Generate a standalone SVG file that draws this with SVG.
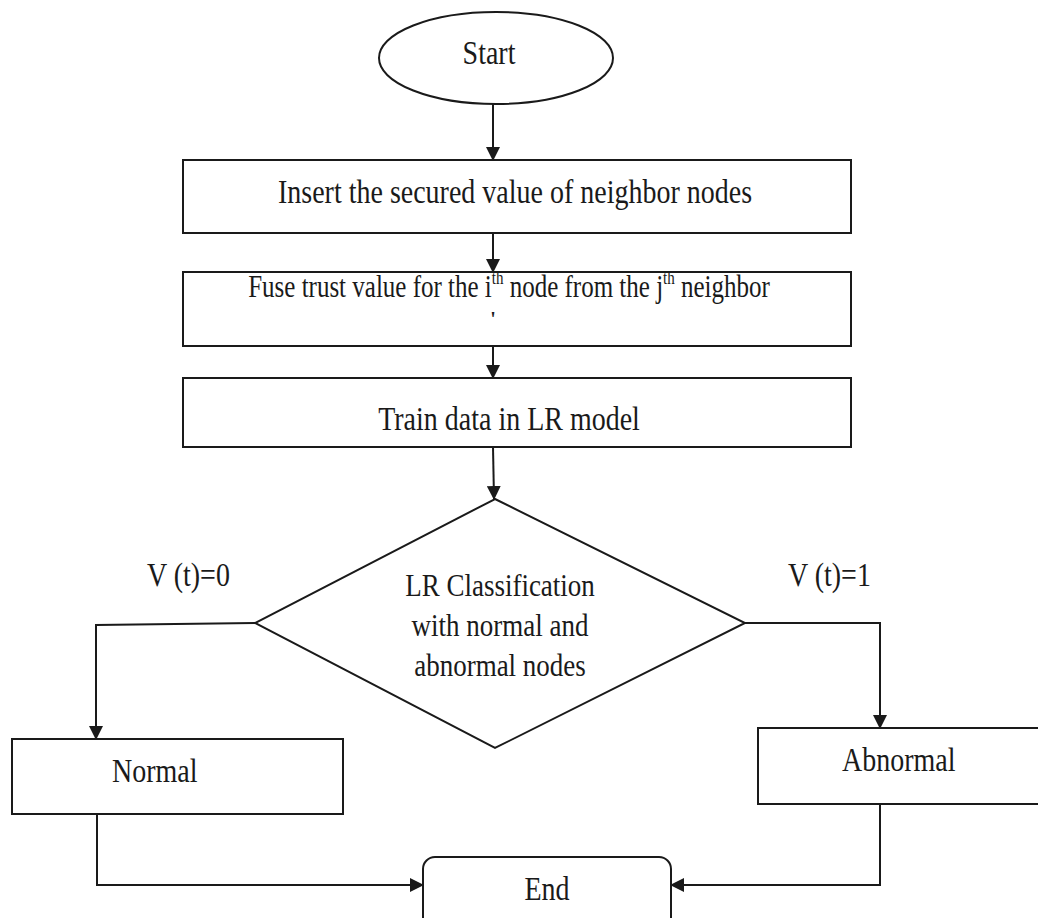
<svg xmlns="http://www.w3.org/2000/svg" width="1038" height="918" viewBox="0 0 1038 918">
<defs>
<style>
.shape{fill:#fff;stroke:#1a1a1a;stroke-width:2}
.line{fill:none;stroke:#1a1a1a;stroke-width:2}
.t{font-family:"Liberation Serif","Times New Roman",serif;font-size:28px;fill:#1a1a1a}
.m{text-anchor:middle}
.d{font-size:27px}
.f{font-size:25px}
.sup{font-size:15px}
.tick{font-size:20px;font-weight:bold}
</style>
<marker id="arr" viewBox="0 0 14 14" refX="13" refY="7" markerWidth="14" markerHeight="14" markerUnits="userSpaceOnUse" orient="auto">
<path d="M0,0 L14,7 L0,14 Z" fill="#1a1a1a"/>
</marker>
</defs>
<rect width="1038" height="918" fill="#fff"/>

<g id="connectors">
<line class="line" x1="493" y1="104" x2="493" y2="160" marker-end="url(#arr)"/>
<line class="line" x1="493" y1="233" x2="493" y2="272" marker-end="url(#arr)"/>
<line class="line" x1="493" y1="346" x2="493" y2="378" marker-end="url(#arr)"/>
<line class="line" x1="493" y1="447" x2="494" y2="499" marker-end="url(#arr)"/>
<polyline class="line" points="255,623 96,625 96,739" marker-end="url(#arr)"/>
<polyline class="line" points="745,623 880,623 880,728" marker-end="url(#arr)"/>
<polyline class="line" points="97,814 97,885 423,885" marker-end="url(#arr)"/>
<polyline class="line" points="880,804 880,885 671,885" marker-end="url(#arr)"/>
</g>

<g id="start">
<ellipse class="shape" cx="496" cy="58" rx="117" ry="46"/>
<text class="t m" transform="translate(489,64) scale(1,1.18)">Start</text>
</g>

<g id="insert">
<rect class="shape" x="183" y="160" width="668" height="73"/>
<text class="t m" transform="translate(515,203) scale(1,1.18)">Insert the secured value of neighbor nodes</text>
</g>

<g id="fuse">
<rect class="shape" x="183" y="272" width="668" height="74"/>
<text class="t m f" transform="translate(509,297) scale(1,1.3)">Fuse trust value for the i<tspan class="sup" dy="-10">th</tspan><tspan dy="10"> node from the j</tspan><tspan class="sup" dy="-10">th</tspan><tspan dy="10"> neighbor</tspan></text>
<text class="t m tick" transform="translate(493,326)">'</text>
</g>

<g id="train">
<rect class="shape" x="183" y="378" width="668" height="69"/>
<text class="t m" transform="translate(509,430) scale(1,1.18)">Train data in LR model</text>
</g>

<g id="decision">
<polygon class="shape" points="495,499 745,623 495,748 255,623"/>
<text class="t m d" transform="translate(500,596) scale(1,1.18)">LR Classification</text>
<text class="t m d" transform="translate(500,636) scale(1,1.18)">with normal and</text>
<text class="t m d" transform="translate(500,676) scale(1,1.18)">abnormal nodes</text>
</g>

<g id="labels">
<text class="t" transform="translate(147,586) scale(1,1.18)">V (t)=0</text>
<text class="t" transform="translate(788,586) scale(1,1.18)">V (t)=1</text>
</g>

<g id="normal">
<rect class="shape" x="12" y="739" width="331" height="75"/>
<text class="t" transform="translate(112,782) scale(1,1.18)">Normal</text>
</g>

<g id="abnormal">
<rect class="shape" x="758" y="728" width="300" height="76"/>
<text class="t" transform="translate(842,771) scale(1,1.18)">Abnormal</text>
</g>

<g id="end">
<rect class="shape" x="423" y="857" width="248" height="80" rx="12" ry="12"/>
<text class="t m" transform="translate(547,900) scale(1,1.18)">End</text>
</g>
</svg>
